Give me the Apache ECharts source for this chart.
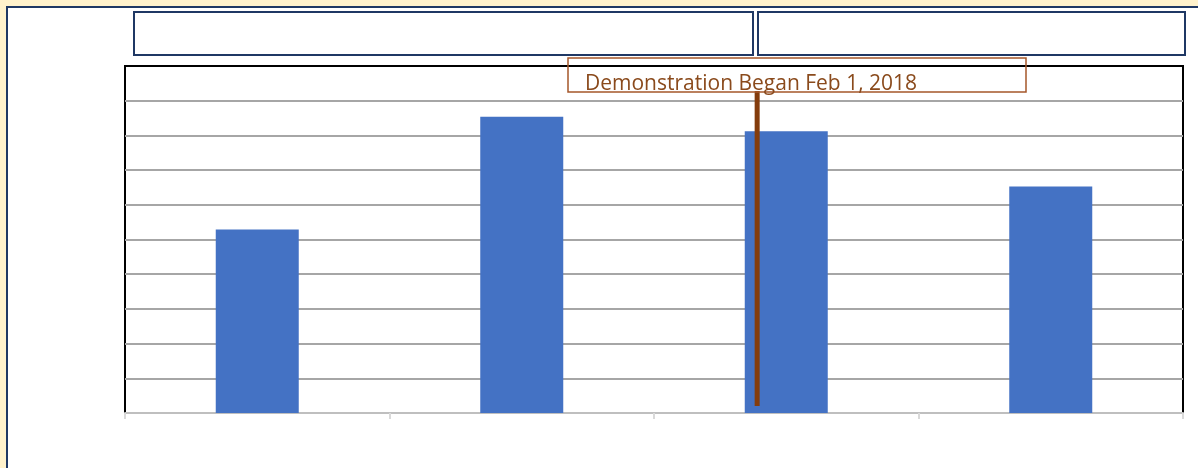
<!DOCTYPE html>
<html>
<head>
<meta charset="utf-8">
<script src="https://cdn.jsdelivr.net/npm/echarts@6/dist/echarts.min.js"></script>
<style>
  html, body { margin: 0; padding: 0; background: #fff2cc; }
  #chart { width: 1198px; height: 468px; }
</style>
</head>
<body>
<div id="chart"></div>
<script>
// categories have no visible labels in the picture
const categories = ['', '', '', '']
const barValues = [5.29, 8.54, 8.12, 6.53]
const yTicks = { min: 0, max: 10, interval: 1 }
// demonstration marker: position on a 0..4 category scale and its vertical extent
const markerX = 2.39
const markerSpan = [0.2, 9.28]
const markerText = 'Demonstration Began Feb 1, 2018'

const chart = echarts.init(document.getElementById('chart'))
chart.setOption({
  backgroundColor: '#fff2cc',
  animation: false,
  grid: {
    left: 125,
    top: 66,
    width: 1058,
    height: 347,
    show: true,
    borderColor: '#000',
    borderWidth: 2,
    backgroundColor: '#fff'
  },
  xAxis: [{
    type: 'category',
    data: categories,
    axisLine: { lineStyle: { color: '#bfbfbf', width: 2 } },
    axisTick: { show: true, length: 6, lineStyle: { color: '#d9d9d9', width: 2 } },
    axisLabel: { show: false }
  }, {
    type: 'value',
    min: 0,
    max: 4,
    show: false
  }],
  yAxis: {
    type: 'value',
    min: yTicks.min,
    max: yTicks.max,
    interval: yTicks.interval,
    axisLine: { show: false },
    axisTick: { show: false },
    axisLabel: { show: false },
    splitLine: {
      showMaxLine: false,
      showMinLine: false,
      lineStyle: { color: '#a6a6a6', width: 2 }
    }
  },
  graphic: [
    {
      type: 'rect', z: -10, silent: true,
      shape: { x: 7, y: 7, width: 1210, height: 480 },
      style: { fill: '#fff', stroke: '#1f3864', lineWidth: 2 }
    },
    {
      type: 'rect', silent: true,
      shape: { x: 134, y: 12, width: 619, height: 43 },
      style: { fill: '#fff', stroke: '#1f3864', lineWidth: 2 }
    },
    {
      type: 'rect', silent: true,
      shape: { x: 758, y: 12, width: 427, height: 43 },
      style: { fill: '#fff', stroke: '#1f3864', lineWidth: 2 }
    },
    {
      type: 'rect', silent: true, z: 100,
      shape: { x: 568, y: 58, width: 458, height: 34 },
      style: { fill: 'transparent', stroke: '#a5572a', lineWidth: 1.5 }
    },
    {
      type: 'text', silent: true, z: 100,
      x: 585, y: 74,
      style: {
        text: markerText,
        fill: '#8a4a1c',
        font: '21px "Open Sans", "DejaVu Sans", sans-serif'
      }
    }
  ],
  series: [{
    type: 'bar',
    data: barValues,
    barWidth: 83,
    itemStyle: { color: '#4472c4' }
  }, {
    type: 'line',
    xAxisIndex: 1,
    data: [[markerX, markerSpan[0]], [markerX, markerSpan[1]]],
    symbol: 'none',
    z: 50,
    lineStyle: { color: '#843c0c', width: 5 }
  }]
})
</script>
</body>
</html>
